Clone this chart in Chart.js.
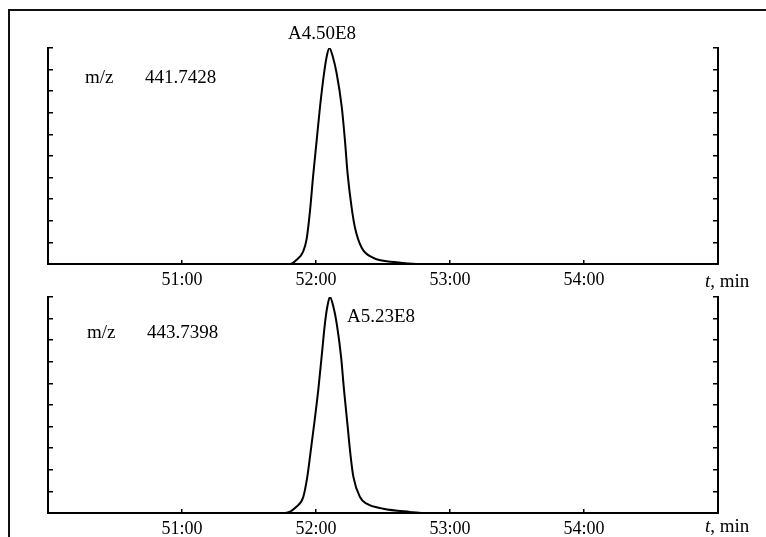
<!DOCTYPE html>
<html>
<head>
<meta charset="utf-8">
<script src="https://cdn.jsdelivr.net/npm/chart.js@4.4.1/dist/chart.umd.min.js"></script>
<style>
    html, body { margin: 0; padding: 0; background: #fff; overflow: hidden; }
    body { width: 766px; height: 537px; position: relative; font-family: 'Liberation Serif', serif; color: #000; }
    .frame { position: absolute; left: 8px; top: 9px; width: 800px; height: 600px; border-top: 2px solid #111; border-left: 2px solid #111; }
    .panel { position: absolute; left: 0; width: 766px; height: 300px; }
    .label { position: absolute; font-size: 19px; line-height: 19px; white-space: nowrap; }
</style>
</head>
<body>
<div class="frame"></div>
<div class="panel" style="top: 0px;"><canvas id="top"></canvas></div>
<div class="panel" style="top: 249px;"><canvas id="bottom"></canvas></div>

<div class="label" style="left: 85px; top: 67px;">m/z</div>
<div class="label" id="mz0" style="left: 145px; top: 67px;"></div>
<div class="label" id="area0" style="left: 288px; top: 23px;"></div>
<div class="label" style="left: 705px; top: 271px;"><i>t</i>, min</div>

<div class="label" style="left: 87px; top: 322px;">m/z</div>
<div class="label" id="mz1" style="left: 147px; top: 322px;"></div>
<div class="label" id="area1" style="left: 347px; top: 306px;"></div>
<div class="label" style="left: 705px; top: 516px;"><i>t</i>, min</div>

<script>
// retention time (min) / relative intensity (% of full scale)
const TOP_TIMES = [50.0, 51.70, 51.806, 51.856, 51.905, 51.930, 51.955, 51.980, 52.005, 52.030, 52.060, 52.080, 52.100,
    52.125, 52.154, 52.192, 52.216, 52.236, 52.266, 52.291, 52.341, 52.428, 52.602, 52.751, 53.5, 55.0];
const TOP_VALUES = [0, 0, 0, 2.0, 5.9, 11.5, 24.5, 41.7, 57.2, 72.8, 88.3, 96.1, 100,
    96.1, 88.3, 72.8, 57.2, 41.7, 26.1, 16.8, 7.5, 2.8, 0.8, 0, 0, 0];

const BOTTOM_TIMES = [50.0, 51.70, 51.769, 51.856, 51.905, 51.935, 51.955, 51.987, 52.017, 52.042, 52.067, 52.085, 52.104,
    52.129, 52.154, 52.187, 52.209, 52.234, 52.259, 52.279, 52.328, 52.378, 52.502, 52.701, 52.801, 55.0];
const BOTTOM_VALUES = [0, 0, 0, 3.0, 7.4, 16.7, 26.0, 41.5, 57.0, 72.4, 87.9, 95.7, 100,
    95.7, 87.9, 72.4, 57.0, 41.5, 26.0, 16.7, 7.4, 4.3, 2.0, 0.5, 0, 0];

const X_TICKS = [50, 51, 52, 53, 54, 55];
const X_TICK_LABELS = ['', '51:00', '52:00', '53:00', '54:00', ''];
const MZ_LABELS = ['441.7428', '443.7398'];
const AREA_LABELS = ['A4.50E8', 'A5.23E8'];

const FONT = { family: 'Liberation Serif', size: 18 };

document.getElementById('mz0').textContent = MZ_LABELS[0];
document.getElementById('mz1').textContent = MZ_LABELS[1];
document.getElementById('area0').textContent = AREA_LABELS[0];
document.getElementById('area1').textContent = AREA_LABELS[1];

makePanel('top', TOP_TIMES, TOP_VALUES);
makePanel('bottom', BOTTOM_TIMES, BOTTOM_VALUES);

function makePanel(id, times, values) {
    let points = times.map((t, idx) => ({ x: t, y: values[idx] }));

    // inward tick marks, no grid inside the plot
    let sideGrid = { drawOnChartArea: false, drawTicks: true, tickLength: -5, color: '#000', lineWidth: 1.5 };
    let border = { display: true, color: '#000', width: 2 };

    return new Chart(document.getElementById(id), {
        type: 'line',
        data: {
            datasets: [{
                data: points,
                borderColor: '#000',
                borderWidth: 2,
                pointRadius: 0,
                cubicInterpolationMode: 'monotone',
                fill: false
            }]
        },
        options: {
            animation: false,
            responsive: true,
            maintainAspectRatio: false,
            layout: { padding: { top: 48, left: 0, right: 0, bottom: 0 } },
            plugins: {
                legend: { display: false },
                tooltip: { enabled: false }
            },
            scales: {
                x: {
                    type: 'linear',
                    position: 'bottom',
                    min: 50,
                    max: 55,
                    afterBuildTicks: scale => { scale.ticks = X_TICKS.map(v => ({ value: v })); },
                    afterFit: scale => { scale.height = 36; },
                    grid: { ...sideGrid, tickLength: -4 },
                    border: border,
                    ticks: {
                        callback: (value, idx) => X_TICK_LABELS[idx],
                        color: '#000',
                        font: FONT,
                        maxRotation: 0,
                        autoSkip: false,
                        padding: 9
                    }
                },
                y: {
                    position: 'left',
                    min: 0,
                    max: 100,
                    afterFit: scale => { scale.width = 48; },
                    grid: sideGrid,
                    border: border,
                    ticks: { display: false, stepSize: 10 }
                },
                y2: {
                    position: 'right',
                    min: 0,
                    max: 100,
                    afterFit: scale => { scale.width = 48; },
                    grid: sideGrid,
                    border: border,
                    ticks: { display: false, stepSize: 10 }
                }
            }
        }
    });
}
</script>
</body>
</html>
